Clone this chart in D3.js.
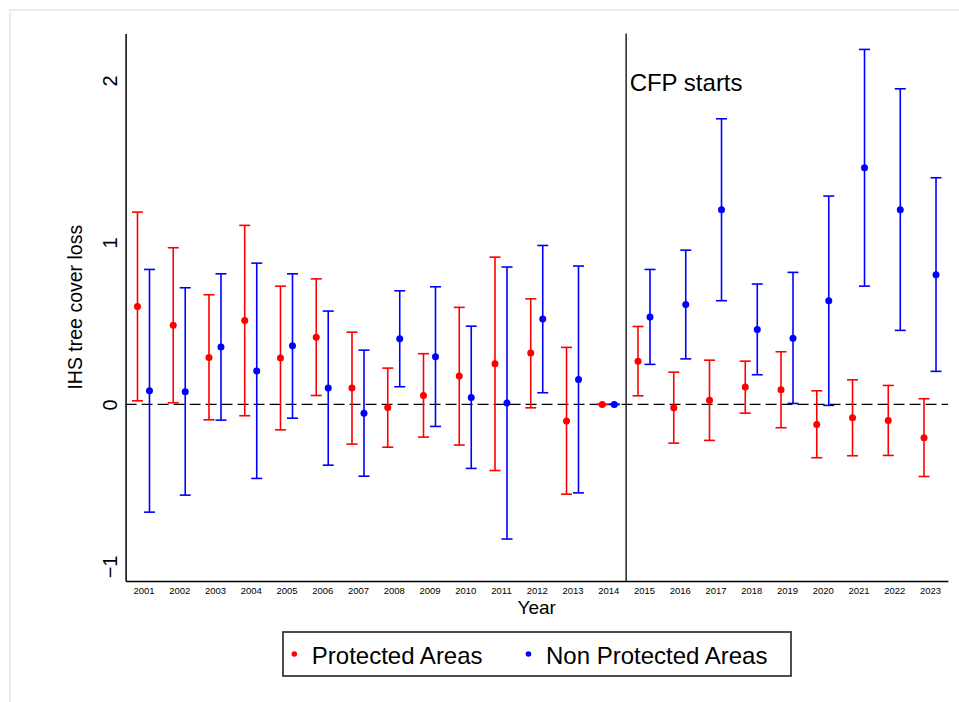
<!DOCTYPE html>
<html>
<head>
<meta charset="utf-8">
<script src="https://cdn.jsdelivr.net/npm/d3@7"></script>
<style>
  html, body { margin: 0; padding: 0; background: #fff; }
  svg { display: block; font-family: "Liberation Sans", Arial, Helvetica, sans-serif; }
</style>
</head>
<body>
<svg id="chart" width="959" height="702"></svg>
<script>
// Event-study coefficients with 95% confidence intervals, by year
const years = [2001, 2002, 2003, 2004, 2005, 2006, 2007, 2008, 2009, 2010, 2011, 2012,
               2013, 2014, 2015, 2016, 2017, 2018, 2019, 2020, 2021, 2022, 2023];

const protectedCoef = [0.605, 0.488, 0.290, 0.518, 0.286, 0.415, 0.101, -0.019, 0.055, 0.175, 0.251, 0.317,
                       -0.103, 0, 0.267, -0.021, 0.025, 0.107, 0.090, -0.124, -0.082, -0.099, -0.206];
const protectedLo   = [0.022, 0.010, -0.095, -0.070, -0.157, 0.055, -0.245, -0.264, -0.202, -0.251, -0.408, -0.021,
                       -0.554, 0, 0.053, -0.239, -0.222, -0.054, -0.144, -0.329, -0.317, -0.315, -0.445];
const protectedHi   = [1.187, 0.967, 0.677, 1.105, 0.730, 0.775, 0.446, 0.224, 0.313, 0.599, 0.909, 0.652,
                       0.352, 0, 0.481, 0.199, 0.273, 0.267, 0.325, 0.084, 0.152, 0.117, 0.035];

const nonProtectedCoef = [0.084, 0.078, 0.354, 0.206, 0.362, 0.101, -0.054, 0.405, 0.294, 0.043, 0.008, 0.527,
                          0.154, 0, 0.539, 0.617, 1.201, 0.463, 0.409, 0.640, 1.461, 1.201, 0.800];
const nonProtectedLo   = [-0.665, -0.560, -0.097, -0.457, -0.085, -0.375, -0.443, 0.109, -0.136, -0.395, -0.831, 0.072,
                          -0.546, 0, 0.247, 0.281, 0.640, 0.183, 0.006, -0.006, 0.730, 0.457, 0.204];
const nonProtectedHi   = [0.833, 0.720, 0.806, 0.872, 0.806, 0.576, 0.335, 0.701, 0.726, 0.483, 0.848, 0.981,
                          0.854, 0, 0.833, 0.952, 1.763, 0.743, 0.815, 1.286, 2.191, 1.948, 1.399];

const yTicks = [-1, 0, 1, 2];
const policyStart = 2014.5;
const policyLabel = "CFP starts";
const seriesNames = ["Protected Areas", "Non Protected Areas"];
const seriesColors = ["#ff0000", "#0000ff"];

const series = [
  { name: seriesNames[0], color: seriesColors[0], offset: -6,
    rows: years.map((y, i) => ({ year: y, b: protectedCoef[i], lo: protectedLo[i], hi: protectedHi[i] })) },
  { name: seriesNames[1], color: seriesColors[1], offset: 6,
    rows: years.map((y, i) => ({ year: y, b: nonProtectedCoef[i], lo: nonProtectedLo[i], hi: nonProtectedHi[i] })) }
];

const svg = d3.select("#chart");

// light page frame
svg.append("rect")
  .attr("x", 10).attr("y", 10).attr("width", 960).attr("height", 700)
  .attr("fill", "none").attr("stroke", "#e8edf1").attr("stroke-width", 2);

const x = d3.scaleLinear().domain([2000.5, 2023.5]).range([125.6, 947.9]);
const y = d3.scaleLinear().domain([-1.09, 2.29]).range([581, 33.4]);

// zero reference line
svg.append("line")
  .attr("x1", x.range()[0]).attr("x2", x.range()[1])
  .attr("y1", y(0)).attr("y2", y(0))
  .attr("stroke", "#000").attr("stroke-width", 1.4)
  .attr("stroke-dasharray", "11,5");

// policy start line
svg.append("line")
  .attr("x1", x(policyStart)).attr("x2", x(policyStart))
  .attr("y1", y.range()[1]).attr("y2", y.range()[0])
  .attr("stroke", "#000").attr("stroke-width", 1.3);

svg.append("text")
  .attr("x", x(policyStart) + 3.5).attr("y", 90.5)
  .attr("font-size", 24).attr("fill", "#000")
  .text(policyLabel);

// y axis
const yAxis = svg.append("g")
  .attr("transform", `translate(${x.range()[0]},0)`)
  .call(d3.axisLeft(y).tickValues(yTicks).tickSize(0).tickSizeOuter(0).tickFormat(d3.format("d")));
yAxis.select(".domain").attr("stroke", "#000").attr("stroke-width", 1.5);
yAxis.selectAll(".tick text")
  .attr("x", null).attr("dy", null)
  .attr("text-anchor", "middle")
  .attr("transform", "translate(-9,0) rotate(-90)")
  .attr("font-size", 20).attr("fill", "#000")
  .attr("font-family", "Liberation Sans, Arial, sans-serif");

// x axis
const xAxis = svg.append("g")
  .attr("transform", `translate(0,${y.range()[0]})`)
  .call(d3.axisBottom(x).tickValues(years).tickSize(0).tickSizeOuter(0).tickPadding(6.5).tickFormat(d3.format("d")));
xAxis.select(".domain").attr("stroke", "#000").attr("stroke-width", 1.5);
xAxis.selectAll(".tick text")
  .attr("font-size", 9.5).attr("fill", "#000")
  .attr("font-family", "Liberation Sans, Arial, sans-serif");

// axis titles
svg.append("text")
  .attr("x", (x.range()[0] + x.range()[1]) / 2).attr("y", 614.3)
  .attr("text-anchor", "middle").attr("font-size", 19).attr("fill", "#000")
  .text("Year");

svg.append("text")
  .attr("transform", `translate(81.5,${(y.range()[0] + y.range()[1]) / 2}) rotate(-90)`)
  .attr("text-anchor", "middle").attr("font-size", 19.5).attr("fill", "#000")
  .text("IHS tree cover loss");

// confidence intervals and point estimates
const capHalf = 5.5;
series.forEach(s => {
  const g = svg.append("g").attr("stroke", s.color).attr("fill", s.color);
  const bars = g.selectAll("g.ci").data(s.rows).join("g").attr("class", "ci");
  bars.append("line")
    .attr("x1", d => x(d.year) + s.offset).attr("x2", d => x(d.year) + s.offset)
    .attr("y1", d => y(d.lo)).attr("y2", d => y(d.hi))
    .attr("stroke-width", 1.6);
  bars.append("line")
    .attr("x1", d => x(d.year) + s.offset - capHalf).attr("x2", d => x(d.year) + s.offset + capHalf)
    .attr("y1", d => y(d.hi)).attr("y2", d => y(d.hi))
    .attr("stroke-width", 1.6);
  bars.append("line")
    .attr("x1", d => x(d.year) + s.offset - capHalf).attr("x2", d => x(d.year) + s.offset + capHalf)
    .attr("y1", d => y(d.lo)).attr("y2", d => y(d.lo))
    .attr("stroke-width", 1.6);
  bars.append("circle")
    .attr("cx", d => x(d.year) + s.offset).attr("cy", d => y(d.b))
    .attr("r", 3.5).attr("stroke", "none");
});

// legend
const legend = svg.append("g");
legend.append("rect")
  .attr("x", 283).attr("y", 632).attr("width", 508).attr("height", 44)
  .attr("fill", "#fff").attr("stroke", "#3a3a3a").attr("stroke-width", 1.8);
const legendItems = [
  { name: seriesNames[0], color: seriesColors[0], dx: 294.3 },
  { name: seriesNames[1], color: seriesColors[1], dx: 528.5 }
];
legendItems.forEach(it => {
  legend.append("circle").attr("cx", it.dx).attr("cy", 654).attr("r", 2.8).attr("fill", it.color);
  legend.append("text").attr("x", it.dx + 17.5).attr("y", 664)
    .attr("font-size", 24).attr("fill", "#000").text(it.name);
});
</script>
</body>
</html>
